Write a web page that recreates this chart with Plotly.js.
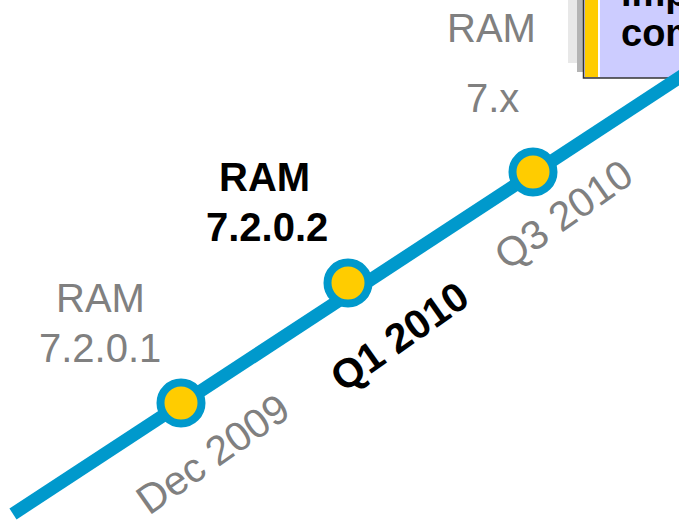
<!DOCTYPE html>
<html>
<head>
<meta charset="utf-8">
<script src="https://cdn.plot.ly/plotly-3.0.1.min.js"></script>
<style>
  html, body { margin: 0; padding: 0; background: #fff; }
  #chart { width: 679px; height: 523px; }
</style>
</head>
<body>
<div id="chart"></div>
<script>
// timeline data
const lineX = [0.13, 7.0];
const lineY = [0.09, 4.59];

const milestoneX = [1.81, 3.48, 5.33];
const milestoneY = [1.20, 2.40, 3.51];
const milestoneDates = ["Dec 2009", "Q1 2010", "Q3 2010"];
const releaseNames = ["RAM", "RAM", "RAM"];
const releaseVersions = ["7.2.0.1", "7.2.0.2", "7.x"];
const isCurrent = [false, true, false];

const blue = "#0099CC";
const yellow = "#FFCC00";
const grey = "#808080";
const fontFamily = "Liberation Sans, Arial, sans-serif";

// label offsets (px) from each milestone
const nameShift = [[-81, 105], [-84, 106], [-42, 144]];
const versionShift = [[-81, 55], [-81, 56], [-41, 74]];
const dateShift = [[32, -51], [51, -54], [30, -43]];

const annotations = [];
milestoneX.forEach((x, i) => {
    const bold = isCurrent[i];
    const font = { family: fontFamily, size: 40, color: bold ? "#000" : grey };
    const wrap = s => (bold ? "<b>" + s + "</b>" : s);
    const base = {
        x: x, y: milestoneY[i], xref: "x", yref: "y",
        xanchor: "center", yanchor: "middle", showarrow: false,
    };
    annotations.push({ ...base, text: wrap(releaseNames[i]), font: font,
        xshift: nameShift[i][0], yshift: nameShift[i][1] });
    annotations.push({ ...base, text: wrap(releaseVersions[i]), font: font,
        xshift: versionShift[i][0], yshift: versionShift[i][1] });
    annotations.push({ ...base, text: wrap(milestoneDates[i]),
        font: { ...font, size: 41 }, textangle: -35,
        xshift: dateShift[i][0], yshift: dateShift[i][1] });
});

// partial note box in the top-right corner
const W = 679, H = 523;
const px = v => v / W;
const py = v => 1 - v / H;

const boxFont = { family: fontFamily, size: 38, color: "#000" };
annotations.push({
    x: px(619), y: py(-7), xref: "paper", yref: "paper",
    xanchor: "left", yanchor: "middle", text: "<b>imp</b>", showarrow: false,
    font: boxFont,
});
annotations.push({
    x: px(619), y: py(33), xref: "paper", yref: "paper",
    xanchor: "left", yanchor: "middle", text: "<b>com</b>", showarrow: false,
    font: boxFont,
});

const shapes = [
    { type: "rect", xref: "paper", yref: "paper", layer: "below",
      x0: px(568), x1: px(584), y0: py(0), y1: py(63),
      fillcolor: "#e8e8e8", line: { width: 0 } },
    { type: "rect", xref: "paper", yref: "paper", layer: "below",
      x0: px(577), x1: px(584), y0: py(0), y1: py(72),
      fillcolor: "#b4b4b4", line: { width: 0 } },
    { type: "rect", xref: "paper", yref: "paper", layer: "below",
      x0: px(583.5), x1: px(700), y0: py(-10), y1: py(78),
      fillcolor: "#CCCCFF", line: { color: "#333", width: 1.5 } },
    { type: "rect", xref: "paper", yref: "paper", layer: "below",
      x0: px(585), x1: px(598), y0: py(-10), y1: py(77),
      fillcolor: yellow, line: { width: 0 } },
    { type: "rect", xref: "paper", yref: "paper", layer: "below",
      x0: px(598), x1: px(600), y0: py(-10), y1: py(77),
      fillcolor: "#ffffff", line: { width: 0 } },
];

Plotly.newPlot(
    "chart",
    [
        {
            x: lineX,
            y: lineY,
            mode: "lines",
            line: { color: blue, width: 13 },
            hoverinfo: "skip",
        },
        {
            x: milestoneX,
            y: milestoneY,
            mode: "markers",
            marker: { size: 41, color: yellow, line: { color: blue, width: 8 } },
            hoverinfo: "skip",
        },
    ],
    {
        width: W,
        height: H,
        margin: { l: 0, r: 0, t: 0, b: 0 },
        paper_bgcolor: "#fff",
        plot_bgcolor: "#fff",
        showlegend: false,
        xaxis: { range: [0, 6.79], visible: false, fixedrange: true },
        yaxis: { range: [0, 5.23], visible: false, fixedrange: true },
        annotations: annotations,
        shapes: shapes,
    },
    { displayModeBar: false, staticPlot: true }
);
</script>
</body>
</html>
